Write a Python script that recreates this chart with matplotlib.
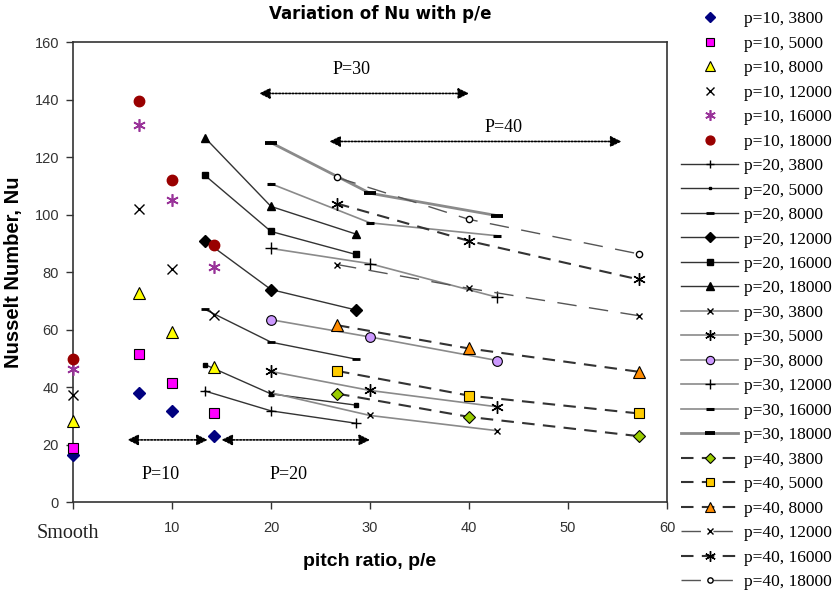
import matplotlib
matplotlib.use("Agg")
import matplotlib.pyplot as plt

# ---- data -------------------------------------------------------------
re_labels = ["3800", "5000", "8000", "12000", "16000", "18000"]

# pitch ratio p/e for each pitch (e = 1.5, 1.0, 0.7 mm); 0 = smooth duct
x_p10 = [0, 6.67, 10.0, 14.29]
x_p20 = [13.33, 20.0, 28.57]
x_p30 = [20.0, 30.0, 42.86]
x_p40 = [26.67, 40.0, 57.14]

nu_p10 = {
    "3800":  [16.5, 38.0, 31.5, 23.0],
    "5000":  [18.8, 51.4, 41.3, 30.8],
    "8000":  [28.3, 72.8, 59.0, 46.8],
    "12000": [37.3, 101.9, 81.0, 65.2],
    "16000": [46.4, 131.0, 105.2, 81.6],
    "18000": [49.7, 139.4, 111.9, 89.4],
}
nu_p20 = {
    "3800":  [38.6, 31.7, 27.4],
    "5000":  [47.8, 37.6, 33.7],
    "8000":  [67.0, 55.6, 49.7],
    "12000": [90.8, 73.9, 66.8],
    "16000": [113.6, 94.1, 86.1],
    "18000": [126.7, 102.8, 93.2],
}
nu_p30 = {
    "3800":  [38.0, 30.1, 24.8],
    "5000":  [45.4, 38.8, 33.1],
    "8000":  [63.4, 57.4, 49.2],
    "12000": [88.2, 82.9, 71.2],
    "16000": [110.7, 97.1, 92.6],
    "18000": [125.0, 107.4, 99.6],
}
nu_p40 = {
    "3800":  [37.7, 29.6, 22.9],
    "5000":  [45.6, 37.0, 30.8],
    "8000":  [61.5, 53.4, 45.3],
    "12000": [82.6, 74.3, 64.8],
    "16000": [103.8, 90.8, 77.4],
    "18000": [112.9, 98.3, 86.3],
}

# pitch-range annotations: label, arrow x-span, arrow y, text position
spans = [
    ("P=10", (5.5, 13.6), 21.6, (8.8, 9.7)),
    ("P=20", (15.0, 30.0), 21.6, (21.8, 9.7)),
    ("P=30", (18.8, 40.0), 142.1, (28.1, 150.3)),
    ("P=40", (25.9, 55.4), 125.4, (43.5, 130.1)),
]

x_ticks = [0, 10, 20, 30, 40, 50, 60]
y_ticks = [0, 20, 40, 60, 80, 100, 120, 140, 160]

# ---- styles -----------------------------------------------------------
SANS = "Liberation Sans"
SERIF = "Liberation Serif"
STAR = (6, 2, 0)

sty10 = {
    "3800":  dict(marker="D", color="#000080", mec="#000080", ms=6),
    "5000":  dict(marker="s", color="#FF00FF", mec="black", ms=7.5, mew=0.8),
    "8000":  dict(marker="^", color="#FFFF00", mec="black", ms=8.5, mew=0.8),
    "12000": dict(marker="x", color="black", mec="black", ms=7.5, mew=1.0),
    "16000": dict(marker=STAR, color="#993399", mec="#993399", ms=9, mew=1.2),
    "18000": dict(marker="o", color="#990000", mec="#990000", ms=7.5),
}
line20 = dict(color="#333333", lw=1.0, ls="-")
sty20 = {
    "3800":  dict(marker="+", mfc="black", mec="black", ms=7, mew=1.0),
    "5000":  dict(marker="s", mfc="black", mec="black", ms=2.5),
    "8000":  dict(marker="_", mfc="black", mec="black", ms=6, mew=2.0),
    "12000": dict(marker="D", mfc="black", mec="black", ms=6),
    "16000": dict(marker="s", mfc="black", mec="black", ms=5),
    "18000": dict(marker="^", mfc="black", mec="black", ms=6),
}
line30 = dict(color="#8a8a8a", lw=1.2, ls="-")
sty30 = {
    "3800":  dict(marker="x", mfc="black", mec="black", ms=5, mew=1.0),
    "5000":  dict(marker=STAR, mfc="black", mec="black", ms=9, mew=1.0),
    "8000":  dict(marker="o", mfc="#CC99FF", mec="black", ms=7, mew=0.8),
    "12000": dict(marker="+", mfc="black", mec="black", ms=9, mew=1.0),
    "16000": dict(marker="_", mfc="black", mec="black", ms=6, mew=2.2),
    "18000": dict(marker="_", mfc="black", mec="black", ms=8, mew=2.8),
}
dash_dark = dict(color="#333333", lw=1.5, dashes=(6, 4))
dash_long = dict(color="#555555", lw=1.0, dashes=(14, 9))
sty40 = {
    "3800":  dict(marker="D", mfc="#99CC00", mec="black", ms=6, mew=0.8, **dash_dark),
    "5000":  dict(marker="s", mfc="#FFCC00", mec="black", ms=7, mew=0.8, **dash_dark),
    "8000":  dict(marker="^", mfc="#FF8C00", mec="black", ms=8, mew=0.8, **dash_dark),
    "12000": dict(marker="x", mfc="black", mec="black", ms=5, mew=1.0, **dash_long),
    "16000": dict(marker=STAR, mfc="black", mec="black", ms=9, mew=1.0, **dash_dark),
    "18000": dict(marker="o", mfc="white", mec="black", ms=4.5, mew=1.0, **dash_long),
}

# ---- figure -----------------------------------------------------------
fig = plt.figure(figsize=(8.33, 5.92), dpi=100)
ax = fig.add_axes([73 / 833, 1 - 502 / 592, 594 / 833, 460 / 592])

handles = []
for re in re_labels:
    s = sty10[re]
    h, = ax.plot(x_p10, nu_p10[re], ls="none", marker=s["marker"],
                 mfc=s["color"], mec=s["mec"], ms=s["ms"], mew=s.get("mew", 1.0),
                 label=f"p=10, {re}", zorder=4, clip_on=False)
    handles.append(h)
for re in re_labels:
    h, = ax.plot(x_p20, nu_p20[re], label=f"p=20, {re}", zorder=3,
                 **line20, **sty20[re])
    handles.append(h)
for re in re_labels:
    extra = dict(line30)
    if re == "18000":
        extra["lw"] = 2.0
    h, = ax.plot(x_p30, nu_p30[re], label=f"p=30, {re}", zorder=3,
                 **extra, **sty30[re])
    handles.append(h)
for re in re_labels:
    h, = ax.plot(x_p40, nu_p40[re], label=f"p=40, {re}", zorder=3, **sty40[re])
    handles.append(h)

# dotted double-headed arrows marking each pitch range
for label, (x0, x1), y, (tx, ty) in spans:
    ax.annotate("", xy=(x0, y), xytext=(x1, y),
                arrowprops=dict(arrowstyle="<|-|>", ls=(0, (1, 1)), lw=1.2,
                                color="black", mutation_scale=16,
                                shrinkA=0, shrinkB=0))
    ax.text(tx, ty, label, ha="center", va="center", fontsize=13,
            family=SERIF)

ax.set_xlim(0, 60)
ax.set_ylim(0, 160)
ax.set_xticks(x_ticks)
ax.set_yticks(y_ticks)
ax.set_xticklabels([""] + [str(t) for t in x_ticks[1:]], family=SANS, fontsize=10.5)
ax.set_yticklabels([str(t) for t in y_ticks], family=SANS, fontsize=10.5)
ax.tick_params(direction="out", length=5, width=1.0, colors="#333333",
               labelcolor="#333333")
ax.tick_params(axis="x", pad=9)
ax.tick_params(axis="y", pad=5)
ax.text(-0.5, -7.5, "Smooth", transform=ax.transData, ha="center", va="top",
        family=SERIF, fontsize=14.5, color="#222222", clip_on=False)
for sp in ax.spines.values():
    sp.set_color("#333333")
    sp.set_linewidth(1.2)

ax.set_xlabel("pitch ratio, p/e", family=SANS, fontweight="bold", fontsize=14,
              labelpad=13)
ax.set_ylabel("Nusselt Number, Nu", family=SANS, fontweight="bold",
              fontsize=14.5, labelpad=8)
fig.text(380 / 833, 1 - 14 / 592, "Variation of Nu with p/e", ha="center",
         va="center", family="DejaVu Sans", fontweight="bold", fontsize=12)

leg = fig.legend(handles=handles, loc="upper left",
                 bbox_to_anchor=(681 / 833, 1 - 11 / 592),
                 frameon=False, prop=dict(family=SERIF, size=12.5),
                 handlelength=3.3, handletextpad=0.3, labelspacing=0.48,
                 borderaxespad=0, borderpad=0, markerscale=0.85)

fig.savefig("out.png", dpi=100)
